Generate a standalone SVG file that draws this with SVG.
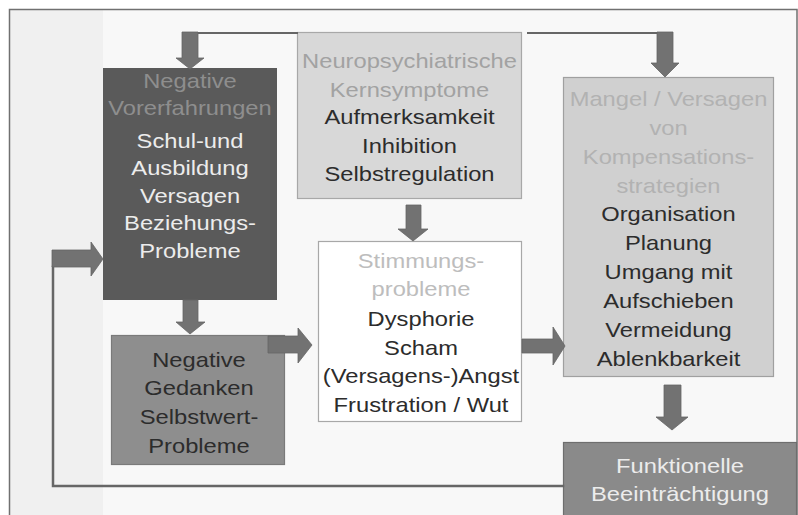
<svg xmlns="http://www.w3.org/2000/svg" width="798" height="515" viewBox="0 0 798 515">
<style>
text{font-family:"Liberation Sans",Arial,sans-serif;font-size:21px;text-anchor:middle}
.arrow{fill:#727272;stroke:#666;stroke-width:0.8}
.line{fill:none;stroke:#666;stroke-linecap:square}
.tv{fill:#8e8e8e}.tw{fill:#ececec}.tg{fill:#a2a2a2}.tl{fill:#bdbdbd}.tm{fill:#b2b2b2}.td{fill:#2c2c2c}
</style>
<rect x="0" y="0" width="798" height="515" fill="#ffffff"/>
<rect x="10" y="10" width="788" height="505" fill="#f8f8f8"/>
<rect x="10" y="10" width="93" height="505" fill="#f0f0f0"/>
<path d="M9.5 515V9.5H797V515" fill="none" stroke="#707070" stroke-width="1.5"/>

<g id="node-vorerfahrungen">
<rect x="103" y="68" width="174" height="232" fill="#5a5a5a"/>
<g transform="translate(190 0) scale(1.13 1)">
<text class="tv" x="0" y="88">Negative</text>
<text class="tv" x="0" y="115">Vorerfahrungen</text>
<text class="tw" x="0" y="148">Schul-und</text>
<text class="tw" x="0" y="175">Ausbildung</text>
<text class="tw" x="0" y="203">Versagen</text>
<text class="tw" x="0" y="230">Beziehungs-</text>
<text class="tw" x="0" y="258">Probleme</text>
</g>
</g>

<g id="node-neuro">
<rect x="297.5" y="32.5" width="224" height="166" fill="#d8d8d8" stroke="#a8a8a8" stroke-width="1.2"/>
<g transform="translate(409.5 0) scale(1.13 1)">
<text class="tg" x="0" y="68">Neuropsychiatrische</text>
<text class="tg" x="0" y="97">Kernsymptome</text>
<text class="td" x="0" y="124">Aufmerksamkeit</text>
<text class="td" x="0" y="153">Inhibition</text>
<text class="td" x="0" y="181">Selbstregulation</text>
</g>
</g>

<g id="node-stimmung">
<rect x="318.5" y="241.5" width="203" height="180" fill="#ffffff" stroke="#a8a8a8" stroke-width="1.2"/>
<g transform="translate(421 0) scale(1.13 1)">
<text class="tl" x="0" y="268">Stimmungs-</text>
<text class="tl" x="0" y="296">probleme</text>
<text class="td" x="0" y="326">Dysphorie</text>
<text class="td" x="0" y="355">Scham</text>
<text class="td" x="0" y="383">(Versagens-)Angst</text>
<text class="td" x="0" y="412">Frustration / Wut</text>
</g>
</g>

<g id="node-gedanken">
<rect x="111.5" y="335.5" width="173" height="129" fill="#8e8e8e" stroke="#7a7a7a" stroke-width="1.2"/>
<g transform="translate(199 0) scale(1.13 1)">
<text class="td" x="0" y="367">Negative</text>
<text class="td" x="0" y="395">Gedanken</text>
<text class="td" x="0" y="424">Selbstwert-</text>
<text class="td" x="0" y="453">Probleme</text>
</g>
</g>

<g id="node-kompensation">
<rect x="563.5" y="77.5" width="210" height="299" fill="#d0d0d0" stroke="#a0a0a0" stroke-width="1.2"/>
<g transform="translate(668.5 0) scale(1.13 1)">
<text class="tm" x="0" y="106">Mangel / Versagen</text>
<text class="tm" x="0" y="135">von</text>
<text class="tm" x="0" y="164">Kompensations-</text>
<text class="tm" x="0" y="193">strategien</text>
<text class="td" x="0" y="221">Organisation</text>
<text class="td" x="0" y="250">Planung</text>
<text class="td" x="0" y="279">Umgang mit</text>
<text class="td" x="0" y="308">Aufschieben</text>
<text class="td" x="0" y="337">Vermeidung</text>
<text class="td" x="0" y="366">Ablenkbarkeit</text>
</g>
</g>

<g id="node-funktionell">
<rect x="563.5" y="442.5" width="233" height="80" fill="#8a8a8a" stroke="#6e6e6e" stroke-width="1.2"/>
<g transform="translate(680 0) scale(1.13 1)">
<text class="tw" x="0" y="473">Funktionelle</text>
<text class="tw" x="0" y="501">Beeinträchtigung</text>
</g>
</g>

<g id="connectors">
<path class="line" d="M190 33H297" stroke-width="2"/>
<path class="line" d="M528 33H665" stroke-width="2"/>
<path class="line" d="M563 486H53V267" stroke-width="2.5"/>
<polygon class="arrow" points="182,32 198,32 198,58 204,58 190,69 176,58 182,58"/>
<polygon class="arrow" points="657,32 673,32 673,63 679,63 665,77 651,63 657,63"/>
<polygon class="arrow" points="406,205 421,205 421,229 428,229 413,241 398,229 406,229"/>
<polygon class="arrow" points="183,300 198,300 198,322 205,322 190,334 176,322 183,322"/>
<polygon class="arrow" points="268,336 298,336 298,328 312,345 298,363 298,353 268,353"/>
<polygon class="arrow" points="522,339 553,339 553,327 565,346 553,365 553,353 522,353"/>
<polygon class="arrow" points="664,385 681,385 681,417 688,417 672,430 656,417 664,417"/>
<polygon class="arrow" points="52,250 91,250 91,242 103,259 91,276 91,267 52,267"/>
</g>
</svg>
